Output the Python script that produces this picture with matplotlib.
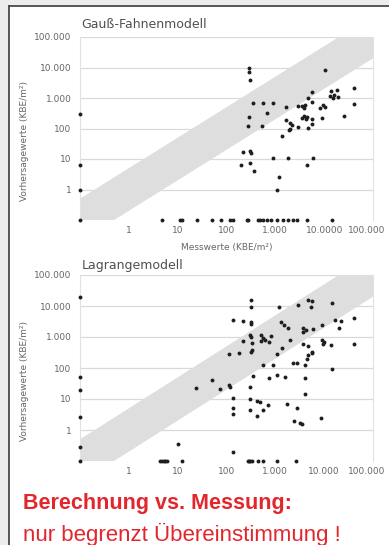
import numpy as np
import matplotlib.pyplot as plt
import matplotlib.transforms as mtransforms
from matplotlib.patches import Rectangle
from matplotlib.lines import Line2D

W, H = 389, 545

# Gauss plume model: measured (x) vs predicted (y), KBE/m2 ; zeros drawn at 0.1
gauss_x = [0.1, 0.1, 0.1, 0.1,
           290, 290, 300, 10500,
           355, 560, 910, 1660, 2900, 3500, 3800, 4000, 4700, 5600, 5600, 8300,
           9500, 10500, 13000, 14000, 15000, 16000, 18000, 19000, 40000, 40000, 25000,
           670, 290, 275, 540, 1660, 2000, 2200, 3500, 3800, 4200, 4500, 5600, 9100,
           5600, 2000, 2900, 4700, 1350, 1900,
           220, 300, 320, 200, 310, 370, 910, 1850, 5900, 4500, 1200, 1100,
           4.8, 11, 12.4, 25, 50, 77, 117, 135, 263, 275, 445, 490, 570, 690, 810,
           1100, 1450, 1800, 2300, 2800, 4500, 14400]
gauss_y = [300, 6.3, 1, 0.1,
           9500, 7000, 3900, 8300,
           700, 700, 680, 500, 550, 560, 480, 600, 1000, 750, 1600, 460,
           600, 500, 1200, 1700, 1000, 1300, 1800, 1100, 2100, 620, 260,
           330, 240, 125, 120, 190, 150, 130, 220, 250, 200, 230, 210, 220,
           140, 100, 110, 105, 56, 90,
           17, 18, 16, 6.3, 7.4, 4, 10.7, 10.7, 10.7, 6.3, 2.6, 1.0,
           0.1, 0.1, 0.1, 0.1, 0.1, 0.1, 0.1, 0.1, 0.1, 0.1, 0.1, 0.1, 0.1, 0.1, 0.1,
           0.1, 0.1, 0.1, 0.1, 0.1, 0.1, 0.1]

# Lagrange model
lag_x = [0.1, 0.1, 0.1, 0.1, 0.1, 0.1,
         320, 320, 1200, 2900, 4700, 5600, 5400, 14400,
         135, 220, 320, 320, 1300, 1500, 1800, 3700, 3700, 4200, 5900, 9100,
         17000, 22000, 20000, 40000,
         220, 320, 300, 340, 330, 320, 500, 560, 620, 750, 800, 510, 2000, 3700,
         4700, 5600, 9100, 9800, 9300, 14000, 40000,
         115, 180, 1100, 5600, 560, 910, 2300, 2800, 4000, 4500, 14400, 1400, 4700,
         350, 750, 1100, 1600, 4000,
         24, 50, 74, 110, 120, 135, 300, 310, 420, 490, 700, 135, 135, 300, 560,
         420, 1750, 2800, 4000, 2400, 3200, 3500, 8500,
         10, 135,
         4.3, 4.8, 5.2, 5.6, 6.0, 12, 270, 290, 310, 330, 450, 560, 1100, 2700]
lag_y = [19500, 51, 19, 2.6, 0.28, 0.1,
         15500, 9300, 9300, 10700, 15500, 14000, 9000, 12500,
         3500, 3400, 3000, 2600, 3000, 2400, 2000, 1900, 1500, 1700, 1800, 2400,
         3500, 3400, 2000, 4000,
         750, 1000, 1200, 650, 380, 330, 1200, 900, 800, 700, 1100, 750, 800, 600,
         500, 330, 800, 700, 600, 550, 590,
         280, 300, 280, 300, 125, 125, 150, 140, 125, 190, 95, 440, 260,
         55, 48, 60, 50, 48,
         22, 40, 21, 28, 25, 11, 24, 10, 8.5, 8, 6.5, 5, 3.3, 4.4, 4.4,
         2.8, 6.9, 5, 14.5, 2, 1.7, 1.6, 2.4,
         0.35, 0.2,
         0.1, 0.1, 0.1, 0.1, 0.1, 0.1, 0.1, 0.1, 0.1, 0.1, 0.1, 0.1, 0.1, 0.1]

decades = [0.1, 1, 10, 100, 1000, 10000, 100000]
y_labels = ['', '1', '10', '100', '1.000', '10.000', '100.000']
x_labels_top = ['', '1', '10', '100', '1.000', '10.0000', '100.000']
x_labels_bottom = ['', '1', '10', '100', '1.000', '10.000', '100.000']
band_factor = 5

fig = plt.figure(figsize=(W / 100, H / 100), dpi=100)
fig.patch.set_facecolor('#ededed')

# white panel with dark top/left border
fig.patches.append(Rectangle((9 / W, 0), 1, 1 - 6 / H, transform=fig.transFigure,
                             facecolor='white', edgecolor='none', zorder=-5))
fig.lines.append(Line2D([9 / W, 9 / W], [0, 1 - 6 / H], transform=fig.transFigure,
                        color='#4a4a4a', lw=1.3, zorder=-4))
fig.lines.append(Line2D([9 / W, 1], [1 - 6 / H, 1 - 6 / H], transform=fig.transFigure,
                        color='#4a4a4a', lw=1.3, zorder=-4))


def panel(rect, xs, ys, xlabels, title, title_gap):
    ax = fig.add_axes(rect)
    ax.set_xscale('log')
    ax.set_yscale('log')
    ax.set_xlim(0.1, 100000)
    ax.set_ylim(0.1, 100000)
    bx = np.array([0.01, 1e6])
    ax.fill_between(bx, bx / band_factor, bx * band_factor, color='#dedede', lw=0, zorder=1)
    for d in decades[1:]:
        ax.axhline(d, color='#d9d9d9', lw=0.9, zorder=0.5)
    ax.plot(xs, ys, 'o', color='#1e1e1e', ms=2.8, mew=0, zorder=3, clip_on=False)
    for s in ['top', 'bottom']:
        ax.spines[s].set_visible(False)
    for s in ['left', 'right']:
        ax.spines[s].set_color('#e2e2e2')
        ax.spines[s].set_linewidth(0.8)
    ax.set_xticks(decades)
    ax.set_xticklabels(xlabels)
    ax.set_yticks(decades)
    ax.set_yticklabels(y_labels)
    ax.minorticks_off()
    ax.tick_params(length=0, labelsize=6.5, colors='#666666')
    ax.tick_params(axis='y', pad=6)
    ax.tick_params(axis='x', pad=4)
    last = ax.get_xticklabels()[-1]
    last.set_transform(last.get_transform() +
                       mtransforms.ScaledTranslation(-6 / 100, 0, fig.dpi_scale_trans))
    ax.set_ylabel('Vorhersagewerte (KBE/m²)', fontsize=6.5, color='#666666')
    ax.yaxis.set_label_coords(-0.175, 0.43)
    ax.set_facecolor('none')
    ax.text(0.005, 1.0 + title_gap / (rect[3] * H), title, transform=ax.transAxes,
            fontsize=9, color='#505050', ha='left', va='center')
    return ax


ax1 = panel([80 / W, 1 - 220 / H, 293 / W, 183 / H], gauss_x, gauss_y,
            x_labels_top, 'Gauß-Fahnenmodell', 12)
ax1.set_xlabel('Messwerte (KBE/m²)', fontsize=6.5, color='#666666', labelpad=6)

ax2 = panel([80 / W, 1 - 461 / H, 293 / W, 186 / H], lag_x, lag_y,
            x_labels_bottom, 'Lagrangemodell', 10)

red = '#e3262d'
fam = ['Liberation Sans Narrow', 'Liberation Sans', 'DejaVu Sans']
fig.text(23 / W, 1 - 503 / H, 'Berechnung vs. Messung:', fontsize=15.5, fontweight='bold',
         color=red, family=fam, va='center', ha='left')
fig.text(23 / W, 1 - 534 / H, 'nur begrenzt Übereinstimmung !', fontsize=16,
         color=red, family=fam, va='center', ha='left')

fig.savefig('out.png', dpi=100, facecolor=fig.get_facecolor())
